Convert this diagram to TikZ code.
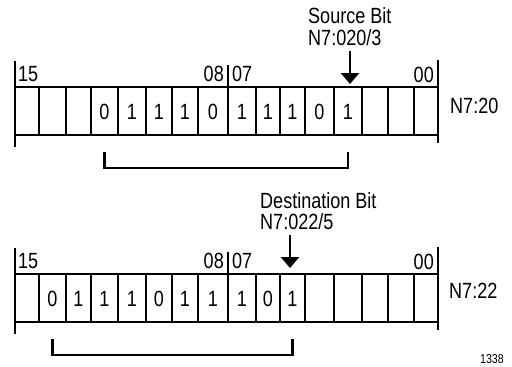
\documentclass[tikz,border=0pt]{standalone}
\usepackage{fontspec}
\setmainfont{Liberation Sans}[FakeStretch=0.82]
\usetikzlibrary{arrows.meta}
\tikzset{
  reg/.style={line width=2.4bp, line cap=butt},
  lbl/.style={inner sep=0pt, font=\fontsize{22bp}{25bp}\selectfont},
  bitval/.style={inner sep=0pt, anchor=base, font=\fontsize{22bp}{25bp}\selectfont},
  ptr/.style={line width=2.4bp, -{Triangle[width=18bp,length=11bp]}},
  brk/.style={line width=2.4bp}
}
\begin{document}
\begin{tikzpicture}[x=1bp,y=-1bp]
\useasboundingbox (0,0) rectangle (512,366);
% ---------- top register (offset 0) and bottom register (offset 187)
\foreach \off/\nm in {0/a,187/b}{
  \begin{scope}[yshift=-\off bp]
    \draw[reg] (15,87) -- (438,87);
    \draw[reg] (15,135) -- (438,135);
    \foreach \x in {39,66,91,118,146,172,198,256,280,305,334,362,388,414}
      \draw[reg] (\x,87) -- (\x,135);
    \draw[reg] (15,61) -- (15,147);
    \draw[reg] (228,65) -- (228,135);
    \draw[reg] (438,60) -- (438,143);
    \node[lbl, anchor=base west] (\nm15) at (18,81) {15};
    \node[lbl, anchor=base east] (\nm08) at (224,81) {08};
    \node[lbl, anchor=base west] (\nm07) at (232,81) {07};
    \node[lbl, anchor=base east] (\nm00) at (434,82) {00};
  \end{scope}
}
% ---------- top bits
\foreach \c/\v [count=\i] in {104.5/0,132/1,159/1,185/1,213/0,242/1,268/1,292.5/1,319.5/0,348/1}
  \node[bitval] (t\i) at (\c,119.5) {\v};
% ---------- bottom bits
\foreach \c/\v [count=\i] in {52.5/0,78.5/1,104.5/1,132/1,159/0,185/1,213/1,242/1,268/0,292.5/1}
  \node[bitval] (u\i) at (\c,306.5) {\v};
% ---------- register names
\node[lbl, anchor=base west] (r20) at (450,113) {N7:20};
\node[lbl, anchor=base west] (r22) at (449,298) {N7:22};
% ---------- source bit
\node[lbl, anchor=base west] (srcA) at (308,23) {Source Bit};
\node[lbl, anchor=base west] (srcB) at (308,45) {N7:020/3};
\coordinate (srcS) at (350,51);
\coordinate (srcT) at (350,84);
\draw[ptr] (srcS) -- (srcT);
% ---------- destination bit
\node[lbl, anchor=base west] (dstA) at (260,208) {Destination Bit};
\node[lbl, anchor=base west] (dstB) at (260,229) {N7:022/5};
\coordinate (dstS) at (290,235);
\coordinate (dstT) at (290,268);
\draw[ptr] (dstS) -- (dstT);
% ---------- brackets
\draw[brk] (t1 |- 0,152) -- (t1 |- 0,168) -- (t10 |- 0,168) -- (t10 |- 0,152);
\draw[brk] (u1 |- 0,339) -- (u1 |- 0,355) -- (u10 |- 0,355) -- (u10 |- 0,339);
% ---------- figure number
\node[inner sep=0pt, anchor=base east, font=\fontsize{13bp}{15bp}\selectfont] (fig) at (504,363) {1338};
\end{tikzpicture}
\end{document}
